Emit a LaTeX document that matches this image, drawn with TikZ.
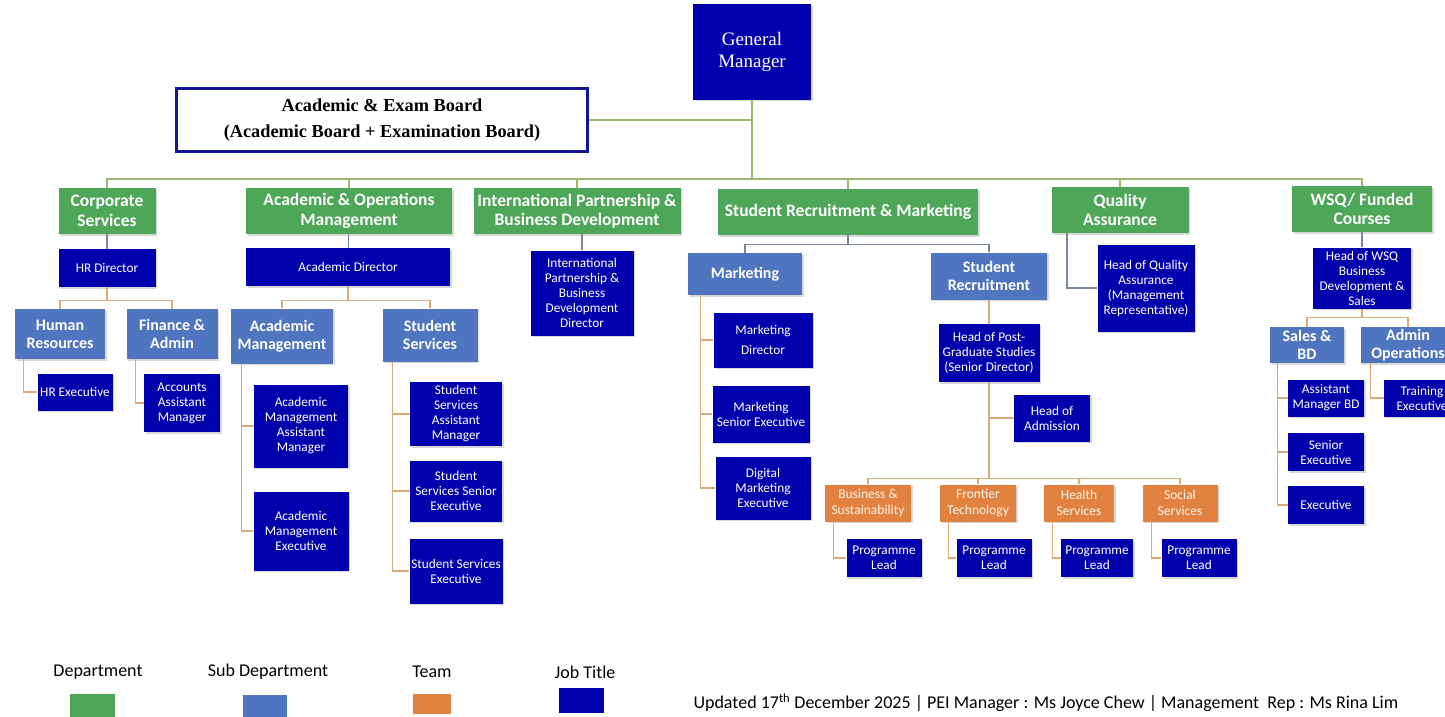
\documentclass[tikz,border=0pt]{standalone}
\usepackage{fontspec}
\setmainfont{Carlito}
\newfontfamily\boardfont{Liberation Serif}
\usetikzlibrary{shadows}

\definecolor{deptgreen}{RGB}{78,167,88}
\definecolor{subblue}{RGB}{79,117,193}
\definecolor{teamorange}{RGB}{226,130,64}
\definecolor{jobblue}{RGB}{0,0,172}
\definecolor{boardblue}{RGB}{20,20,150}
\definecolor{busgreen}{RGB}{155,185,110}
\definecolor{linegray}{RGB}{120,135,160}
\definecolor{lineorange}{RGB}{222,170,120}

\begin{document}
\begin{tikzpicture}[
    x=1pt, y=-1pt,
    base/.style={rectangle, align=center, inner sep=0.5pt, text=white,
        drop shadow={shadow xshift=1.5pt, shadow yshift=-1.5pt, opacity=0.3}},
    dept/.style={base, fill=deptgreen, minimum height=46pt, font=\fontsize{17.5}{19.5}\bfseries\selectfont},
    subdept/.style={base, fill=subblue, font=\fontsize{16}{18}\bfseries\selectfont},
    team/.style={base, fill=teamorange, minimum height=37pt, text=white!92!orange, font=\fontsize{13.5}{15.5}\selectfont},
    job/.style={base, fill=jobblue, font=\fontsize{13.3}{15}\selectfont},
    greenline/.style={draw=busgreen, line width=1.3pt},
    grayline/.style={draw=linegray, line width=1.1pt},
    orangeline/.style={draw=lineorange, line width=1.1pt},
    legend/.style={font=\fontsize{18}{20}\selectfont}
]
\useasboundingbox[fill=white] (0,0) rectangle (1445,717);

% Top of the chart
\node[job, minimum width=118pt, minimum height=95pt, font=\boardfont\fontsize{19}{22}\selectfont] (gm) at (752,52) {General\\Manager};
\node[rectangle, draw=boardblue, line width=2.5pt, fill=white, minimum width=411pt, minimum height=63pt, align=center,
    font=\boardfont\fontsize{18.3}{26}\bfseries\selectfont,
    drop shadow={shadow xshift=1.5pt, shadow yshift=-1.5pt, opacity=0.3}] (board) at (382,120)
    {Academic \& Exam Board\\(Academic Board + Examination Board)};
\coordinate (bus) at (752,179);

% Departments
\node[dept, minimum width=97pt] (cs) at (107,211) {Corporate\\Services};
\node[dept, minimum width=206pt] (aom) at (349,211) {Academic \& Operations\\Management};
\node[dept, minimum width=207pt] (ipbd) at (577,211) {International Partnership \&\\Business Development};
\node[dept, minimum width=260pt] (srm) at (848,212) {Student Recruitment \& Marketing};
\node[dept, minimum width=137pt] (qa) at (1120,210) {Quality\\Assurance};
\node[dept, minimum width=140pt] (wsq) at (1362,209) {WSQ/ Funded\\Courses};

\draw[greenline] (board) -- (board -| gm);
\draw[greenline] (gm) -- (bus);
\foreach \d in {cs,aom,ipbd,srm,qa,wsq}
    \draw[greenline] (bus) -| (\d);

% Corporate Services
\node[job, minimum width=97pt, minimum height=38pt] (hrdir) at (107,268) {HR Director};
\node[subdept, minimum width=90pt, minimum height=50pt] (hr) at (60,334) {Human\\Resources};
\node[subdept, minimum width=91pt, minimum height=50pt] (fa) at (172,334) {Finance \&\\Admin};
\node[job, minimum width=75pt, minimum height=37pt] (hrexec) at (75,392) {HR Executive};
\node[job, minimum width=76pt, minimum height=58pt] (accam) at (182,403) {Accounts\\Assistant\\Manager};

\draw[grayline] (cs) -- (hrdir);
\draw[orangeline] (hrdir.south) -- ++(0,13) -| (hr);
\draw[orangeline] (hrdir.south) ++(0,13) -| (fa);
\draw[orangeline] ([xshift=9pt]hr.south west) |- (hrexec);
\draw[orangeline] ([xshift=9pt]fa.south west) |- (accam);

% Academic & Operations Management
\node[job, minimum width=204pt, minimum height=38pt] (acdir) at (348,267) {Academic Director};
\node[subdept, minimum width=102pt, minimum height=55pt] (am) at (282,336) {Academic\\Management};
\node[subdept, minimum width=95pt, minimum height=53pt] (ss) at (430,335) {Student\\Services};
\node[job, minimum width=94pt, minimum height=83pt] (amam) at (301,426) {Academic\\Management\\Assistant\\Manager};
\node[job, minimum width=95pt, minimum height=79pt] (amex) at (301,531) {Academic\\Management\\Executive};
\node[job, minimum width=92pt, minimum height=64pt] (ssam) at (456,414) {Student\\Services\\Assistant\\Manager};
\node[job, minimum width=92pt, minimum height=61pt] (sssx) at (456,491) {Student\\Services Senior\\Executive};
\node[job, minimum width=93pt, minimum height=65pt] (ssex) at (456,571) {Student Services\\Executive};

\draw[grayline] (aom) -- (acdir);
\draw[orangeline] (acdir.south) -- ++(0,14) -| (am);
\draw[orangeline] (acdir.south) ++(0,14) -| (ss);
\draw[orangeline] ([xshift=11pt]am.south west) |- (amam);
\draw[orangeline] ([xshift=11pt]am.south west) |- (amex);
\draw[orangeline] ([xshift=10pt]ss.south west) |- (ssam);
\draw[orangeline] ([xshift=10pt]ss.south west) |- (sssx);
\draw[orangeline] ([xshift=10pt]ss.south west) |- (ssex);

% International Partnership & Business Development
\node[job, minimum width=103pt, minimum height=85pt] (ipdir) at (582,293) {International\\Partnership \&\\Business\\Development\\Director};
\draw[grayline] (ipbd.south -| ipdir) -- (ipdir);

% Student Recruitment & Marketing
\node[subdept, minimum width=114pt, minimum height=42pt] (mkt) at (745,274) {Marketing};
\node[subdept, minimum width=116pt, minimum height=47pt] (sr) at (989,276) {Student\\Recruitment};
\node[job, minimum width=99pt, minimum height=55pt] (mdir) at (763,340) {Marketing\\[5pt]Director};
\node[job, minimum width=97pt, minimum height=57pt] (mse) at (761,414) {Marketing\\Senior Executive};
\node[job, minimum width=95pt, minimum height=63pt] (dme) at (763,488) {Digital\\Marketing\\Executive};
\node[job, minimum width=101pt, minimum height=58pt] (hpg) at (989,353) {Head of Post-\\Graduate Studies\\(Senior Director)};
\node[job, minimum width=76pt, minimum height=47pt] (hadm) at (1052,418) {Head of\\Admission};

\node[team, minimum width=86pt] (bs) at (868,503) {Business \&\\Sustainability};
\node[team, minimum width=76pt] (ft) at (978,503) {Frontier\\Technology};
\node[team, minimum width=70pt] (hs) at (1079,503) {Health\\Services};
\node[team, minimum width=75pt] (soc) at (1180,503) {Social\\Services};

\node[job, minimum width=75pt, minimum height=38pt] (pl1) at (884,558) {Programme\\Lead};
\node[job, minimum width=75pt, minimum height=38pt] (pl2) at (994,558) {Programme\\Lead};
\node[job, minimum width=72pt, minimum height=38pt] (pl3) at (1097,558) {Programme\\Lead};
\node[job, minimum width=75pt, minimum height=38pt] (pl4) at (1199,558) {Programme\\Lead};

\draw[grayline] (srm.south) -- ++(0,9) -| (mkt);
\draw[grayline] (srm.south) ++(0,9) -| (sr);
\draw[orangeline] ([xshift=13pt]mkt.south west) |- (mdir);
\draw[orangeline] ([xshift=13pt]mkt.south west) |- (mse);
\draw[orangeline] ([xshift=13pt]mkt.south west) |- (dme);
\draw[orangeline] (sr) -- (hpg);
\draw[orangeline] (hpg.south) |- (hadm);
\draw[orangeline] (hpg.south) -- ++(0,96) -| (bs);
\foreach \t in {ft,hs,soc}
    \draw[orangeline] (hpg.south) ++(0,96) -| (\t);
\foreach \t/\p in {bs/pl1,ft/pl2,hs/pl3,soc/pl4}
    \draw[orangeline] ([xshift=9pt]\t.south west) |- (\p);

% Quality Assurance
\node[job, minimum width=97pt, minimum height=87pt] (hqa) at (1146,288) {Head of Quality\\Assurance\\(Management\\Representative)};
\draw[grayline] ([xshift=-53pt]qa.south) |- (hqa);

% WSQ/ Funded Courses
\node[job, minimum width=98pt, minimum height=61pt] (hwsq) at (1362,278) {Head of WSQ\\Business\\Development \&\\Sales};
\node[subdept, minimum width=74pt, minimum height=36pt] (sbd) at (1307,345) {Sales \&\\BD};
\node[subdept, minimum width=95pt, minimum height=36pt] (aop) at (1408,345) {Admin\\Operations};
\node[job, minimum width=76pt, minimum height=37pt] (ambd) at (1326,398) {Assistant\\Manager BD};
\node[job, minimum width=76pt, minimum height=38pt] (sex) at (1326,452) {Senior\\Executive};
\node[job, minimum width=76pt, minimum height=38pt] (exe) at (1326,505) {Executive};
\node[job, minimum width=76pt, minimum height=37pt] (tex) at (1422,398) {Training\\Executive};

\draw[grayline] (wsq) -- (hwsq);
\draw[orangeline] (hwsq.south) -- ++(0,9) -| (sbd);
\draw[orangeline] (hwsq.south) ++(0,9) -| (aop);
\draw[orangeline] ([xshift=8pt]sbd.south west) |- (ambd);
\draw[orangeline] ([xshift=8pt]sbd.south west) |- (sex);
\draw[orangeline] ([xshift=8pt]sbd.south west) |- (exe);
\draw[orangeline] ([xshift=10pt]aop.south west) |- (tex);

% Legend
\node[legend] (legdept) at (98,672) {Department};
\node[legend] (legsub) at (268,672) {Sub Department};
\node[legend] (legteam) at (432,672) {Team};
\node[legend] (legjob) at (585,672) {Job Title};
\node[fill=deptgreen, minimum width=45pt, minimum height=24pt, inner sep=0pt] (keydept) at (92,706) {};
\node[fill=subblue, minimum width=44pt, minimum height=22pt, inner sep=0pt] (keysub) at (265,706) {};
\node[fill=teamorange, minimum width=38pt, minimum height=20pt, inner sep=0pt] (keyteam) at (432,704) {};
\node[fill=jobblue, minimum width=45pt, minimum height=25pt, inner sep=0pt] (keyjob) at (581,700) {};

\node[legend, anchor=west] (updated) at (690,703)
    {Updated 17\textsuperscript{th} December 2025 | PEI Manager : Ms Joyce Chew | Management~ Rep : Ms Rina Lim};

\end{tikzpicture}
\end{document}
